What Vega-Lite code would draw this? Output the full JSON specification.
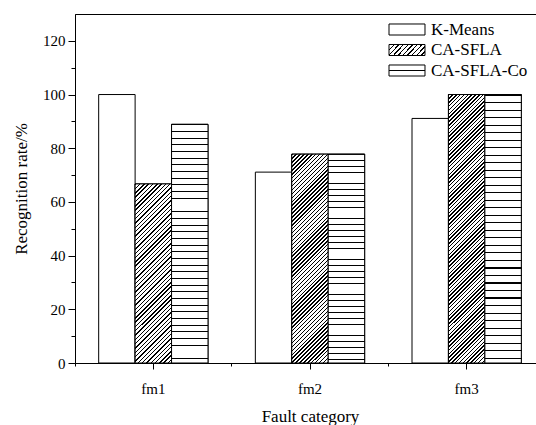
{
  "$schema": "https://vega.github.io/schema/vega-lite/v6.json",
  "width": 462,
  "height": 349,
  "autosize": "none",
  "padding": {"left": 75, "top": 14, "right": 0, "bottom": 62},
  "background": "white",
  "config": {
    "font": "Liberation Serif",
    "view": {"stroke": "black", "strokeWidth": 1},
    "axis": {
      "grid": false,
      "domainColor": "black",
      "tickColor": "black",
      "labelColor": "black",
      "titleColor": "black",
      "labelFont": "Liberation Serif",
      "titleFont": "Liberation Serif",
      "titleFontWeight": "normal",
      "labelFontSize": 15,
      "titleFontSize": 17
    }
  },
  "data": {
    "values": [
      {"category": "fm1", "method": "K-Means", "rate": 100},
      {"category": "fm1", "method": "CA-SFLA", "rate": 66.7},
      {"category": "fm1", "method": "CA-SFLA-Co", "rate": 88.9},
      {"category": "fm2", "method": "K-Means", "rate": 71.1},
      {"category": "fm2", "method": "CA-SFLA", "rate": 77.8},
      {"category": "fm2", "method": "CA-SFLA-Co", "rate": 77.8},
      {"category": "fm3", "method": "K-Means", "rate": 91.1},
      {"category": "fm3", "method": "CA-SFLA", "rate": 100},
      {"category": "fm3", "method": "CA-SFLA-Co", "rate": 100}
    ]
  },
  "layer": [
    {
      "mark": {"type": "bar", "stroke": "black", "strokeWidth": 1},
      "encoding": {
        "x": {
          "field": "category", "type": "nominal", "sort": ["fm1", "fm2", "fm3"],
          "scale": {"range": [0, 470], "paddingInner": 0, "paddingOuter": 0},
          "axis": {"orient": "bottom", "title": "Fault category", "labelAngle": 0, "tickSize": 6, "labelPadding": 12, "titlePadding": 12}
        },
        "xOffset": {
          "field": "method", "type": "nominal", "sort": ["K-Means", "CA-SFLA", "CA-SFLA-Co"],
          "scale": {"paddingInner": 0, "paddingOuter": 0.65}
        },
        "y": {
          "field": "rate", "type": "quantitative",
          "scale": {"domain": [0, 130], "nice": false},
          "axis": {"orient": "left", "title": "Recognition rate/%", "values": [0, 20, 40, 60, 80, 100, 120], "tickSize": 7, "labelPadding": 3, "titlePadding": 12}
        },
        "fill": {
          "field": "method", "type": "nominal", "sort": ["K-Means", "CA-SFLA", "CA-SFLA-Co"],
          "scale": {
            "domain": ["K-Means", "CA-SFLA", "CA-SFLA-Co"],
            "range": [
              "#ffffff",
              {"expr": "{gradient: 'linear', x1: 0, y1: 0, x2: 1.19, y2: 0.34, stops: [{offset: 0, color: '#000'}, {offset: 0.03, color: '#000'}, {offset: 0.03, color: '#fff'}, {offset: 0.1, color: '#fff'}, {offset: 0.1, color: '#000'}, {offset: 0.13, color: '#000'}, {offset: 0.13, color: '#fff'}, {offset: 0.2, color: '#fff'}, {offset: 0.2, color: '#000'}, {offset: 0.23, color: '#000'}, {offset: 0.23, color: '#fff'}, {offset: 0.3, color: '#fff'}, {offset: 0.3, color: '#000'}, {offset: 0.33, color: '#000'}, {offset: 0.33, color: '#fff'}, {offset: 0.4, color: '#fff'}, {offset: 0.4, color: '#000'}, {offset: 0.43, color: '#000'}, {offset: 0.43, color: '#fff'}, {offset: 0.5, color: '#fff'}, {offset: 0.5, color: '#000'}, {offset: 0.53, color: '#000'}, {offset: 0.53, color: '#fff'}, {offset: 0.6, color: '#fff'}, {offset: 0.6, color: '#000'}, {offset: 0.63, color: '#000'}, {offset: 0.63, color: '#fff'}, {offset: 0.7, color: '#fff'}, {offset: 0.7, color: '#000'}, {offset: 0.73, color: '#000'}, {offset: 0.73, color: '#fff'}, {offset: 0.8, color: '#fff'}, {offset: 0.8, color: '#000'}, {offset: 0.83, color: '#000'}, {offset: 0.83, color: '#fff'}, {offset: 0.9, color: '#fff'}, {offset: 0.9, color: '#000'}, {offset: 0.93, color: '#000'}, {offset: 0.93, color: '#fff'}, {offset: 1, color: '#fff'}]}"},
              {"expr": "{gradient: 'linear', x1: 0, y1: 0, x2: 0, y2: 1, stops: [{offset: 0, color: '#fff'}, {offset: 0.45, color: '#fff'}, {offset: 0.45, color: '#000'}, {offset: 0.55, color: '#000'}, {offset: 0.55, color: '#fff'}, {offset: 1, color: '#fff'}]}"}
            ]
          },
          "legend": {
            "orient": "none",
            "legendX": 323.5,
            "legendY": 7,
            "title": null,
            "padding": 0,
            "symbolType": "M-2.571,-0.786H2.571V0.786H-2.571Z",
            "symbolSize": 196,
            "symbolStrokeColor": "black",
            "symbolStrokeWidth": 1,
            "symbolOpacity": 1,
            "labelFont": "Liberation Serif",
            "labelFontSize": 17,
            "labelColor": "black",
            "labelOffset": 15.5,
            "rowPadding": 2.5,
            "encoding": {
              "symbols": {
                "update": {
                  "stroke": {"value": "black"},
                  "strokeWidth": {"value": 1},
                  "opacity": {"value": 1}
                }
              }
            }
          }
        }
      }
    },
    {
      "transform": [{"filter": "datum.method === 'CA-SFLA' && datum.category === 'fm1'"}],
      "mark": {"type": "bar", "stroke": "black", "strokeWidth": 1,
        "fill": {"gradient": "linear", "x1": 0, "y1": 0, "x2": 0.2351, "y2": 1.1557, "stops": [
          {"offset":0,"color":"#000"},{"offset":0.0065,"color":"#000"},{"offset":0.0065,"color":"#fff"},{"offset":0.02,"color":"#fff"},
          {"offset":0.02,"color":"#000"},{"offset":0.0265,"color":"#000"},{"offset":0.0265,"color":"#fff"},{"offset":0.04,"color":"#fff"},
          {"offset":0.04,"color":"#000"},{"offset":0.0465,"color":"#000"},{"offset":0.0465,"color":"#fff"},{"offset":0.06,"color":"#fff"},
          {"offset":0.06,"color":"#000"},{"offset":0.0665,"color":"#000"},{"offset":0.0665,"color":"#fff"},{"offset":0.08,"color":"#fff"},
          {"offset":0.08,"color":"#000"},{"offset":0.0865,"color":"#000"},{"offset":0.0865,"color":"#fff"},{"offset":0.1,"color":"#fff"},
          {"offset":0.1,"color":"#000"},{"offset":0.1065,"color":"#000"},{"offset":0.1065,"color":"#fff"},{"offset":0.12,"color":"#fff"},
          {"offset":0.12,"color":"#000"},{"offset":0.1265,"color":"#000"},{"offset":0.1265,"color":"#fff"},{"offset":0.14,"color":"#fff"},
          {"offset":0.14,"color":"#000"},{"offset":0.1465,"color":"#000"},{"offset":0.1465,"color":"#fff"},{"offset":0.16,"color":"#fff"},
          {"offset":0.16,"color":"#000"},{"offset":0.1665,"color":"#000"},{"offset":0.1665,"color":"#fff"},{"offset":0.18,"color":"#fff"},
          {"offset":0.18,"color":"#000"},{"offset":0.1865,"color":"#000"},{"offset":0.1865,"color":"#fff"},{"offset":0.2,"color":"#fff"},
          {"offset":0.2,"color":"#000"},{"offset":0.2065,"color":"#000"},{"offset":0.2065,"color":"#fff"},{"offset":0.22,"color":"#fff"},
          {"offset":0.22,"color":"#000"},{"offset":0.2265,"color":"#000"},{"offset":0.2265,"color":"#fff"},{"offset":0.24,"color":"#fff"},
          {"offset":0.24,"color":"#000"},{"offset":0.2465,"color":"#000"},{"offset":0.2465,"color":"#fff"},{"offset":0.26,"color":"#fff"},
          {"offset":0.26,"color":"#000"},{"offset":0.2665,"color":"#000"},{"offset":0.2665,"color":"#fff"},{"offset":0.28,"color":"#fff"},
          {"offset":0.28,"color":"#000"},{"offset":0.2865,"color":"#000"},{"offset":0.2865,"color":"#fff"},{"offset":0.3,"color":"#fff"},
          {"offset":0.3,"color":"#000"},{"offset":0.3065,"color":"#000"},{"offset":0.3065,"color":"#fff"},{"offset":0.32,"color":"#fff"},
          {"offset":0.32,"color":"#000"},{"offset":0.3265,"color":"#000"},{"offset":0.3265,"color":"#fff"},{"offset":0.34,"color":"#fff"},
          {"offset":0.34,"color":"#000"},{"offset":0.3465,"color":"#000"},{"offset":0.3465,"color":"#fff"},{"offset":0.36,"color":"#fff"},
          {"offset":0.36,"color":"#000"},{"offset":0.3665,"color":"#000"},{"offset":0.3665,"color":"#fff"},{"offset":0.38,"color":"#fff"},
          {"offset":0.38,"color":"#000"},{"offset":0.3865,"color":"#000"},{"offset":0.3865,"color":"#fff"},{"offset":0.4,"color":"#fff"},
          {"offset":0.4,"color":"#000"},{"offset":0.4065,"color":"#000"},{"offset":0.4065,"color":"#fff"},{"offset":0.42,"color":"#fff"},
          {"offset":0.42,"color":"#000"},{"offset":0.4265,"color":"#000"},{"offset":0.4265,"color":"#fff"},{"offset":0.44,"color":"#fff"},
          {"offset":0.44,"color":"#000"},{"offset":0.4465,"color":"#000"},{"offset":0.4465,"color":"#fff"},{"offset":0.46,"color":"#fff"},
          {"offset":0.46,"color":"#000"},{"offset":0.4665,"color":"#000"},{"offset":0.4665,"color":"#fff"},{"offset":0.48,"color":"#fff"},
          {"offset":0.48,"color":"#000"},{"offset":0.4865,"color":"#000"},{"offset":0.4865,"color":"#fff"},{"offset":0.5,"color":"#fff"},
          {"offset":0.5,"color":"#000"},{"offset":0.5065,"color":"#000"},{"offset":0.5065,"color":"#fff"},{"offset":0.52,"color":"#fff"},
          {"offset":0.52,"color":"#000"},{"offset":0.5265,"color":"#000"},{"offset":0.5265,"color":"#fff"},{"offset":0.54,"color":"#fff"},
          {"offset":0.54,"color":"#000"},{"offset":0.5465,"color":"#000"},{"offset":0.5465,"color":"#fff"},{"offset":0.56,"color":"#fff"},
          {"offset":0.56,"color":"#000"},{"offset":0.5665,"color":"#000"},{"offset":0.5665,"color":"#fff"},{"offset":0.58,"color":"#fff"},
          {"offset":0.58,"color":"#000"},{"offset":0.5865,"color":"#000"},{"offset":0.5865,"color":"#fff"},{"offset":0.6,"color":"#fff"},
          {"offset":0.6,"color":"#000"},{"offset":0.6065,"color":"#000"},{"offset":0.6065,"color":"#fff"},{"offset":0.62,"color":"#fff"},
          {"offset":0.62,"color":"#000"},{"offset":0.6265,"color":"#000"},{"offset":0.6265,"color":"#fff"},{"offset":0.64,"color":"#fff"},
          {"offset":0.64,"color":"#000"},{"offset":0.6465,"color":"#000"},{"offset":0.6465,"color":"#fff"},{"offset":0.66,"color":"#fff"},
          {"offset":0.66,"color":"#000"},{"offset":0.6665,"color":"#000"},{"offset":0.6665,"color":"#fff"},{"offset":0.68,"color":"#fff"},
          {"offset":0.68,"color":"#000"},{"offset":0.6865,"color":"#000"},{"offset":0.6865,"color":"#fff"},{"offset":0.7,"color":"#fff"},
          {"offset":0.7,"color":"#000"},{"offset":0.7065,"color":"#000"},{"offset":0.7065,"color":"#fff"},{"offset":0.72,"color":"#fff"},
          {"offset":0.72,"color":"#000"},{"offset":0.7265,"color":"#000"},{"offset":0.7265,"color":"#fff"},{"offset":0.74,"color":"#fff"},
          {"offset":0.74,"color":"#000"},{"offset":0.7465,"color":"#000"},{"offset":0.7465,"color":"#fff"},{"offset":0.76,"color":"#fff"},
          {"offset":0.76,"color":"#000"},{"offset":0.7665,"color":"#000"},{"offset":0.7665,"color":"#fff"},{"offset":0.78,"color":"#fff"},
          {"offset":0.78,"color":"#000"},{"offset":0.7865,"color":"#000"},{"offset":0.7865,"color":"#fff"},{"offset":0.8,"color":"#fff"},
          {"offset":0.8,"color":"#000"},{"offset":0.8065,"color":"#000"},{"offset":0.8065,"color":"#fff"},{"offset":0.82,"color":"#fff"},
          {"offset":0.82,"color":"#000"},{"offset":0.8265,"color":"#000"},{"offset":0.8265,"color":"#fff"},{"offset":0.84,"color":"#fff"},
          {"offset":0.84,"color":"#000"},{"offset":0.8465,"color":"#000"},{"offset":0.8465,"color":"#fff"},{"offset":0.86,"color":"#fff"},
          {"offset":0.86,"color":"#000"},{"offset":0.8665,"color":"#000"},{"offset":0.8665,"color":"#fff"},{"offset":0.88,"color":"#fff"},
          {"offset":0.88,"color":"#000"},{"offset":0.8865,"color":"#000"},{"offset":0.8865,"color":"#fff"},{"offset":0.9,"color":"#fff"},
          {"offset":0.9,"color":"#000"},{"offset":0.9065,"color":"#000"},{"offset":0.9065,"color":"#fff"},{"offset":0.92,"color":"#fff"},
          {"offset":0.92,"color":"#000"},{"offset":0.9265,"color":"#000"},{"offset":0.9265,"color":"#fff"},{"offset":0.94,"color":"#fff"},
          {"offset":0.94,"color":"#000"},{"offset":0.9465,"color":"#000"},{"offset":0.9465,"color":"#fff"},{"offset":0.96,"color":"#fff"},
          {"offset":0.96,"color":"#000"},{"offset":0.9665,"color":"#000"},{"offset":0.9665,"color":"#fff"},{"offset":0.98,"color":"#fff"},
          {"offset":0.98,"color":"#000"},{"offset":0.9865,"color":"#000"},{"offset":0.9865,"color":"#fff"},{"offset":1,"color":"#fff"}
        ]}
      },
      "encoding": {
        "x": {"field": "category", "type": "nominal", "sort": ["fm1", "fm2", "fm3"], "scale": {"range": [0, 470], "paddingInner": 0, "paddingOuter": 0}, "axis": null},
        "xOffset": {"field": "method", "type": "nominal", "sort": ["K-Means", "CA-SFLA", "CA-SFLA-Co"], "scale": {"paddingInner": 0, "paddingOuter": 0.65}},
        "y": {"field": "rate", "type": "quantitative", "scale": {"domain": [0, 130], "nice": false}, "axis": null}
      }
    },
    {
      "transform": [{"filter": "datum.method === 'CA-SFLA' && datum.category === 'fm2'"}],
      "mark": {"type": "bar", "stroke": "black", "strokeWidth": 1,
        "fill": {"gradient": "linear", "x1": 0, "y1": 0, "x2": 0.1987, "y2": 1.1396, "stops": [
                {"offset":0,"color":"#000"},{"offset":0.006,"color":"#000"},{"offset":0.006,"color":"#fff"},{"offset":0.016,"color":"#fff"},
                {"offset":0.016,"color":"#000"},{"offset":0.022,"color":"#000"},{"offset":0.022,"color":"#fff"},{"offset":0.032,"color":"#fff"},
                {"offset":0.032,"color":"#000"},{"offset":0.038,"color":"#000"},{"offset":0.038,"color":"#fff"},{"offset":0.048,"color":"#fff"},
                {"offset":0.048,"color":"#000"},{"offset":0.054,"color":"#000"},{"offset":0.054,"color":"#fff"},{"offset":0.064,"color":"#fff"},
                {"offset":0.064,"color":"#000"},{"offset":0.07,"color":"#000"},{"offset":0.07,"color":"#fff"},{"offset":0.08,"color":"#fff"},
                {"offset":0.08,"color":"#000"},{"offset":0.086,"color":"#000"},{"offset":0.086,"color":"#fff"},{"offset":0.096,"color":"#fff"},
                {"offset":0.096,"color":"#000"},{"offset":0.102,"color":"#000"},{"offset":0.102,"color":"#fff"},{"offset":0.112,"color":"#fff"},
                {"offset":0.112,"color":"#000"},{"offset":0.118,"color":"#000"},{"offset":0.118,"color":"#fff"},{"offset":0.128,"color":"#fff"},
                {"offset":0.128,"color":"#000"},{"offset":0.134,"color":"#000"},{"offset":0.134,"color":"#fff"},{"offset":0.144,"color":"#fff"},
                {"offset":0.144,"color":"#000"},{"offset":0.15,"color":"#000"},{"offset":0.15,"color":"#fff"},{"offset":0.16,"color":"#fff"},
                {"offset":0.16,"color":"#000"},{"offset":0.166,"color":"#000"},{"offset":0.166,"color":"#fff"},{"offset":0.176,"color":"#fff"},
                {"offset":0.176,"color":"#000"},{"offset":0.182,"color":"#000"},{"offset":0.182,"color":"#fff"},{"offset":0.192,"color":"#fff"},
                {"offset":0.192,"color":"#000"},{"offset":0.198,"color":"#000"},{"offset":0.198,"color":"#fff"},{"offset":0.208,"color":"#fff"},
                {"offset":0.208,"color":"#000"},{"offset":0.214,"color":"#000"},{"offset":0.214,"color":"#fff"},{"offset":0.224,"color":"#fff"},
                {"offset":0.224,"color":"#000"},{"offset":0.23,"color":"#000"},{"offset":0.23,"color":"#fff"},{"offset":0.24,"color":"#fff"},
                {"offset":0.24,"color":"#000"},{"offset":0.246,"color":"#000"},{"offset":0.246,"color":"#fff"},{"offset":0.256,"color":"#fff"},
                {"offset":0.256,"color":"#000"},{"offset":0.262,"color":"#000"},{"offset":0.262,"color":"#fff"},{"offset":0.272,"color":"#fff"},
                {"offset":0.272,"color":"#000"},{"offset":0.278,"color":"#000"},{"offset":0.278,"color":"#fff"},{"offset":0.288,"color":"#fff"},
                {"offset":0.288,"color":"#000"},{"offset":0.294,"color":"#000"},{"offset":0.294,"color":"#fff"},{"offset":0.304,"color":"#fff"},
                {"offset":0.304,"color":"#000"},{"offset":0.31,"color":"#000"},{"offset":0.31,"color":"#fff"},{"offset":0.32,"color":"#fff"},
                {"offset":0.32,"color":"#000"},{"offset":0.326,"color":"#000"},{"offset":0.326,"color":"#fff"},{"offset":0.336,"color":"#fff"},
                {"offset":0.336,"color":"#000"},{"offset":0.342,"color":"#000"},{"offset":0.342,"color":"#fff"},{"offset":0.352,"color":"#fff"},
                {"offset":0.352,"color":"#000"},{"offset":0.358,"color":"#000"},{"offset":0.358,"color":"#fff"},{"offset":0.368,"color":"#fff"},
                {"offset":0.368,"color":"#000"},{"offset":0.374,"color":"#000"},{"offset":0.374,"color":"#fff"},{"offset":0.384,"color":"#fff"},
                {"offset":0.384,"color":"#000"},{"offset":0.39,"color":"#000"},{"offset":0.39,"color":"#fff"},{"offset":0.4,"color":"#fff"},
                {"offset":0.4,"color":"#000"},{"offset":0.406,"color":"#000"},{"offset":0.406,"color":"#fff"},{"offset":0.416,"color":"#fff"},
                {"offset":0.416,"color":"#000"},{"offset":0.422,"color":"#000"},{"offset":0.422,"color":"#fff"},{"offset":0.432,"color":"#fff"},
                {"offset":0.432,"color":"#000"},{"offset":0.438,"color":"#000"},{"offset":0.438,"color":"#fff"},{"offset":0.448,"color":"#fff"},
                {"offset":0.448,"color":"#000"},{"offset":0.454,"color":"#000"},{"offset":0.454,"color":"#fff"},{"offset":0.464,"color":"#fff"},
                {"offset":0.464,"color":"#000"},{"offset":0.47,"color":"#000"},{"offset":0.47,"color":"#fff"},{"offset":0.48,"color":"#fff"},
                {"offset":0.48,"color":"#000"},{"offset":0.486,"color":"#000"},{"offset":0.486,"color":"#fff"},{"offset":0.496,"color":"#fff"},
                {"offset":0.496,"color":"#000"},{"offset":0.502,"color":"#000"},{"offset":0.502,"color":"#fff"},{"offset":0.512,"color":"#fff"},
                {"offset":0.512,"color":"#000"},{"offset":0.518,"color":"#000"},{"offset":0.518,"color":"#fff"},{"offset":0.528,"color":"#fff"},
                {"offset":0.528,"color":"#000"},{"offset":0.534,"color":"#000"},{"offset":0.534,"color":"#fff"},{"offset":0.544,"color":"#fff"},
                {"offset":0.544,"color":"#000"},{"offset":0.55,"color":"#000"},{"offset":0.55,"color":"#fff"},{"offset":0.56,"color":"#fff"},
                {"offset":0.56,"color":"#000"},{"offset":0.566,"color":"#000"},{"offset":0.566,"color":"#fff"},{"offset":0.576,"color":"#fff"},
                {"offset":0.576,"color":"#000"},{"offset":0.582,"color":"#000"},{"offset":0.582,"color":"#fff"},{"offset":0.592,"color":"#fff"},
                {"offset":0.592,"color":"#000"},{"offset":0.598,"color":"#000"},{"offset":0.598,"color":"#fff"},{"offset":0.608,"color":"#fff"},
                {"offset":0.608,"color":"#000"},{"offset":0.614,"color":"#000"},{"offset":0.614,"color":"#fff"},{"offset":0.624,"color":"#fff"},
                {"offset":0.624,"color":"#000"},{"offset":0.63,"color":"#000"},{"offset":0.63,"color":"#fff"},{"offset":0.64,"color":"#fff"},
                {"offset":0.64,"color":"#000"},{"offset":0.646,"color":"#000"},{"offset":0.646,"color":"#fff"},{"offset":0.656,"color":"#fff"},
                {"offset":0.656,"color":"#000"},{"offset":0.662,"color":"#000"},{"offset":0.662,"color":"#fff"},{"offset":0.672,"color":"#fff"},
                {"offset":0.672,"color":"#000"},{"offset":0.678,"color":"#000"},{"offset":0.678,"color":"#fff"},{"offset":0.688,"color":"#fff"},
                {"offset":0.688,"color":"#000"},{"offset":0.694,"color":"#000"},{"offset":0.694,"color":"#fff"},{"offset":0.704,"color":"#fff"},
                {"offset":0.704,"color":"#000"},{"offset":0.71,"color":"#000"},{"offset":0.71,"color":"#fff"},{"offset":0.72,"color":"#fff"},
                {"offset":0.72,"color":"#000"},{"offset":0.726,"color":"#000"},{"offset":0.726,"color":"#fff"},{"offset":0.736,"color":"#fff"},
                {"offset":0.736,"color":"#000"},{"offset":0.742,"color":"#000"},{"offset":0.742,"color":"#fff"},{"offset":0.752,"color":"#fff"},
                {"offset":0.752,"color":"#000"},{"offset":0.758,"color":"#000"},{"offset":0.758,"color":"#fff"},{"offset":0.768,"color":"#fff"},
                {"offset":0.768,"color":"#000"},{"offset":0.774,"color":"#000"},{"offset":0.774,"color":"#fff"},{"offset":0.784,"color":"#fff"},
                {"offset":0.784,"color":"#000"},{"offset":0.79,"color":"#000"},{"offset":0.79,"color":"#fff"},{"offset":0.8,"color":"#fff"},
                {"offset":0.8,"color":"#000"},{"offset":0.806,"color":"#000"},{"offset":0.806,"color":"#fff"},{"offset":0.816,"color":"#fff"},
                {"offset":0.816,"color":"#000"},{"offset":0.822,"color":"#000"},{"offset":0.822,"color":"#fff"},{"offset":0.832,"color":"#fff"},
                {"offset":0.832,"color":"#000"},{"offset":0.838,"color":"#000"},{"offset":0.838,"color":"#fff"},{"offset":0.848,"color":"#fff"},
                {"offset":0.848,"color":"#000"},{"offset":0.854,"color":"#000"},{"offset":0.854,"color":"#fff"},{"offset":0.864,"color":"#fff"},
                {"offset":0.864,"color":"#000"},{"offset":0.87,"color":"#000"},{"offset":0.87,"color":"#fff"},{"offset":0.88,"color":"#fff"},
                {"offset":0.88,"color":"#000"},{"offset":0.886,"color":"#000"},{"offset":0.886,"color":"#fff"},{"offset":0.896,"color":"#fff"},
                {"offset":0.896,"color":"#000"},{"offset":0.902,"color":"#000"},{"offset":0.902,"color":"#fff"},{"offset":0.912,"color":"#fff"},
                {"offset":0.912,"color":"#000"},{"offset":0.918,"color":"#000"},{"offset":0.918,"color":"#fff"},{"offset":0.928,"color":"#fff"},
                {"offset":0.928,"color":"#000"},{"offset":0.934,"color":"#000"},{"offset":0.934,"color":"#fff"},{"offset":0.944,"color":"#fff"},
                {"offset":0.944,"color":"#000"},{"offset":0.95,"color":"#000"},{"offset":0.95,"color":"#fff"},{"offset":0.96,"color":"#fff"},
                {"offset":0.96,"color":"#000"},{"offset":0.966,"color":"#000"},{"offset":0.966,"color":"#fff"},{"offset":0.976,"color":"#fff"},
                {"offset":0.976,"color":"#000"},{"offset":0.982,"color":"#000"},{"offset":0.982,"color":"#fff"},{"offset":0.992,"color":"#fff"},
                {"offset":0.992,"color":"#000"},{"offset":0.998,"color":"#000"},{"offset":0.998,"color":"#fff"},{"offset":1,"color":"#fff"}
        ]}
      },
      "encoding": {
        "x": {"field": "category", "type": "nominal", "sort": ["fm1", "fm2", "fm3"], "scale": {"range": [0, 470], "paddingInner": 0, "paddingOuter": 0}, "axis": null},
        "xOffset": {"field": "method", "type": "nominal", "sort": ["K-Means", "CA-SFLA", "CA-SFLA-Co"], "scale": {"paddingInner": 0, "paddingOuter": 0.65}},
        "y": {"field": "rate", "type": "quantitative", "scale": {"domain": [0, 130], "nice": false}, "axis": null}
      }
    },
    {
      "transform": [{"filter": "datum.method === 'CA-SFLA' && datum.category === 'fm3'"}],
      "mark": {"type": "bar", "stroke": "black", "strokeWidth": 1,
        "fill": {"gradient": "linear", "x1": 0, "y1": 0, "x2": 0.1513, "y2": 1.1152, "stops": [
          {"offset":0,"color":"#000"},{"offset":0.005,"color":"#000"},{"offset":0.005,"color":"#fff"},{"offset":0.0125,"color":"#fff"},
          {"offset":0.0125,"color":"#000"},{"offset":0.0175,"color":"#000"},{"offset":0.0175,"color":"#fff"},{"offset":0.025,"color":"#fff"},
          {"offset":0.025,"color":"#000"},{"offset":0.03,"color":"#000"},{"offset":0.03,"color":"#fff"},{"offset":0.0375,"color":"#fff"},
          {"offset":0.0375,"color":"#000"},{"offset":0.0425,"color":"#000"},{"offset":0.0425,"color":"#fff"},{"offset":0.05,"color":"#fff"},
          {"offset":0.05,"color":"#000"},{"offset":0.055,"color":"#000"},{"offset":0.055,"color":"#fff"},{"offset":0.0625,"color":"#fff"},
          {"offset":0.0625,"color":"#000"},{"offset":0.0675,"color":"#000"},{"offset":0.0675,"color":"#fff"},{"offset":0.075,"color":"#fff"},
          {"offset":0.075,"color":"#000"},{"offset":0.08,"color":"#000"},{"offset":0.08,"color":"#fff"},{"offset":0.0875,"color":"#fff"},
          {"offset":0.0875,"color":"#000"},{"offset":0.0925,"color":"#000"},{"offset":0.0925,"color":"#fff"},{"offset":0.1,"color":"#fff"},
          {"offset":0.1,"color":"#000"},{"offset":0.105,"color":"#000"},{"offset":0.105,"color":"#fff"},{"offset":0.1125,"color":"#fff"},
          {"offset":0.1125,"color":"#000"},{"offset":0.1175,"color":"#000"},{"offset":0.1175,"color":"#fff"},{"offset":0.125,"color":"#fff"},
          {"offset":0.125,"color":"#000"},{"offset":0.13,"color":"#000"},{"offset":0.13,"color":"#fff"},{"offset":0.1375,"color":"#fff"},
          {"offset":0.1375,"color":"#000"},{"offset":0.1425,"color":"#000"},{"offset":0.1425,"color":"#fff"},{"offset":0.15,"color":"#fff"},
          {"offset":0.15,"color":"#000"},{"offset":0.155,"color":"#000"},{"offset":0.155,"color":"#fff"},{"offset":0.1625,"color":"#fff"},
          {"offset":0.1625,"color":"#000"},{"offset":0.1675,"color":"#000"},{"offset":0.1675,"color":"#fff"},{"offset":0.175,"color":"#fff"},
          {"offset":0.175,"color":"#000"},{"offset":0.18,"color":"#000"},{"offset":0.18,"color":"#fff"},{"offset":0.1875,"color":"#fff"},
          {"offset":0.1875,"color":"#000"},{"offset":0.1925,"color":"#000"},{"offset":0.1925,"color":"#fff"},{"offset":0.2,"color":"#fff"},
          {"offset":0.2,"color":"#000"},{"offset":0.205,"color":"#000"},{"offset":0.205,"color":"#fff"},{"offset":0.2125,"color":"#fff"},
          {"offset":0.2125,"color":"#000"},{"offset":0.2175,"color":"#000"},{"offset":0.2175,"color":"#fff"},{"offset":0.225,"color":"#fff"},
          {"offset":0.225,"color":"#000"},{"offset":0.23,"color":"#000"},{"offset":0.23,"color":"#fff"},{"offset":0.2375,"color":"#fff"},
          {"offset":0.2375,"color":"#000"},{"offset":0.2425,"color":"#000"},{"offset":0.2425,"color":"#fff"},{"offset":0.25,"color":"#fff"},
          {"offset":0.25,"color":"#000"},{"offset":0.255,"color":"#000"},{"offset":0.255,"color":"#fff"},{"offset":0.2625,"color":"#fff"},
          {"offset":0.2625,"color":"#000"},{"offset":0.2675,"color":"#000"},{"offset":0.2675,"color":"#fff"},{"offset":0.275,"color":"#fff"},
          {"offset":0.275,"color":"#000"},{"offset":0.28,"color":"#000"},{"offset":0.28,"color":"#fff"},{"offset":0.2875,"color":"#fff"},
          {"offset":0.2875,"color":"#000"},{"offset":0.2925,"color":"#000"},{"offset":0.2925,"color":"#fff"},{"offset":0.3,"color":"#fff"},
          {"offset":0.3,"color":"#000"},{"offset":0.305,"color":"#000"},{"offset":0.305,"color":"#fff"},{"offset":0.3125,"color":"#fff"},
          {"offset":0.3125,"color":"#000"},{"offset":0.3175,"color":"#000"},{"offset":0.3175,"color":"#fff"},{"offset":0.325,"color":"#fff"},
          {"offset":0.325,"color":"#000"},{"offset":0.33,"color":"#000"},{"offset":0.33,"color":"#fff"},{"offset":0.3375,"color":"#fff"},
          {"offset":0.3375,"color":"#000"},{"offset":0.3425,"color":"#000"},{"offset":0.3425,"color":"#fff"},{"offset":0.35,"color":"#fff"},
          {"offset":0.35,"color":"#000"},{"offset":0.355,"color":"#000"},{"offset":0.355,"color":"#fff"},{"offset":0.3625,"color":"#fff"},
          {"offset":0.3625,"color":"#000"},{"offset":0.3675,"color":"#000"},{"offset":0.3675,"color":"#fff"},{"offset":0.375,"color":"#fff"},
          {"offset":0.375,"color":"#000"},{"offset":0.38,"color":"#000"},{"offset":0.38,"color":"#fff"},{"offset":0.3875,"color":"#fff"},
          {"offset":0.3875,"color":"#000"},{"offset":0.3925,"color":"#000"},{"offset":0.3925,"color":"#fff"},{"offset":0.4,"color":"#fff"},
          {"offset":0.4,"color":"#000"},{"offset":0.405,"color":"#000"},{"offset":0.405,"color":"#fff"},{"offset":0.4125,"color":"#fff"},
          {"offset":0.4125,"color":"#000"},{"offset":0.4175,"color":"#000"},{"offset":0.4175,"color":"#fff"},{"offset":0.425,"color":"#fff"},
          {"offset":0.425,"color":"#000"},{"offset":0.43,"color":"#000"},{"offset":0.43,"color":"#fff"},{"offset":0.4375,"color":"#fff"},
          {"offset":0.4375,"color":"#000"},{"offset":0.4425,"color":"#000"},{"offset":0.4425,"color":"#fff"},{"offset":0.45,"color":"#fff"},
          {"offset":0.45,"color":"#000"},{"offset":0.455,"color":"#000"},{"offset":0.455,"color":"#fff"},{"offset":0.4625,"color":"#fff"},
          {"offset":0.4625,"color":"#000"},{"offset":0.4675,"color":"#000"},{"offset":0.4675,"color":"#fff"},{"offset":0.475,"color":"#fff"},
          {"offset":0.475,"color":"#000"},{"offset":0.48,"color":"#000"},{"offset":0.48,"color":"#fff"},{"offset":0.4875,"color":"#fff"},
          {"offset":0.4875,"color":"#000"},{"offset":0.4925,"color":"#000"},{"offset":0.4925,"color":"#fff"},{"offset":0.5,"color":"#fff"},
          {"offset":0.5,"color":"#000"},{"offset":0.505,"color":"#000"},{"offset":0.505,"color":"#fff"},{"offset":0.5125,"color":"#fff"},
          {"offset":0.5125,"color":"#000"},{"offset":0.5175,"color":"#000"},{"offset":0.5175,"color":"#fff"},{"offset":0.525,"color":"#fff"},
          {"offset":0.525,"color":"#000"},{"offset":0.53,"color":"#000"},{"offset":0.53,"color":"#fff"},{"offset":0.5375,"color":"#fff"},
          {"offset":0.5375,"color":"#000"},{"offset":0.5425,"color":"#000"},{"offset":0.5425,"color":"#fff"},{"offset":0.55,"color":"#fff"},
          {"offset":0.55,"color":"#000"},{"offset":0.555,"color":"#000"},{"offset":0.555,"color":"#fff"},{"offset":0.5625,"color":"#fff"},
          {"offset":0.5625,"color":"#000"},{"offset":0.5675,"color":"#000"},{"offset":0.5675,"color":"#fff"},{"offset":0.575,"color":"#fff"},
          {"offset":0.575,"color":"#000"},{"offset":0.58,"color":"#000"},{"offset":0.58,"color":"#fff"},{"offset":0.5875,"color":"#fff"},
          {"offset":0.5875,"color":"#000"},{"offset":0.5925,"color":"#000"},{"offset":0.5925,"color":"#fff"},{"offset":0.6,"color":"#fff"},
          {"offset":0.6,"color":"#000"},{"offset":0.605,"color":"#000"},{"offset":0.605,"color":"#fff"},{"offset":0.6125,"color":"#fff"},
          {"offset":0.6125,"color":"#000"},{"offset":0.6175,"color":"#000"},{"offset":0.6175,"color":"#fff"},{"offset":0.625,"color":"#fff"},
          {"offset":0.625,"color":"#000"},{"offset":0.63,"color":"#000"},{"offset":0.63,"color":"#fff"},{"offset":0.6375,"color":"#fff"},
          {"offset":0.6375,"color":"#000"},{"offset":0.6425,"color":"#000"},{"offset":0.6425,"color":"#fff"},{"offset":0.65,"color":"#fff"},
          {"offset":0.65,"color":"#000"},{"offset":0.655,"color":"#000"},{"offset":0.655,"color":"#fff"},{"offset":0.6625,"color":"#fff"},
          {"offset":0.6625,"color":"#000"},{"offset":0.6675,"color":"#000"},{"offset":0.6675,"color":"#fff"},{"offset":0.675,"color":"#fff"},
          {"offset":0.675,"color":"#000"},{"offset":0.68,"color":"#000"},{"offset":0.68,"color":"#fff"},{"offset":0.6875,"color":"#fff"},
          {"offset":0.6875,"color":"#000"},{"offset":0.6925,"color":"#000"},{"offset":0.6925,"color":"#fff"},{"offset":0.7,"color":"#fff"},
          {"offset":0.7,"color":"#000"},{"offset":0.705,"color":"#000"},{"offset":0.705,"color":"#fff"},{"offset":0.7125,"color":"#fff"},
          {"offset":0.7125,"color":"#000"},{"offset":0.7175,"color":"#000"},{"offset":0.7175,"color":"#fff"},{"offset":0.725,"color":"#fff"},
          {"offset":0.725,"color":"#000"},{"offset":0.73,"color":"#000"},{"offset":0.73,"color":"#fff"},{"offset":0.7375,"color":"#fff"},
          {"offset":0.7375,"color":"#000"},{"offset":0.7425,"color":"#000"},{"offset":0.7425,"color":"#fff"},{"offset":0.75,"color":"#fff"},
          {"offset":0.75,"color":"#000"},{"offset":0.755,"color":"#000"},{"offset":0.755,"color":"#fff"},{"offset":0.7625,"color":"#fff"},
          {"offset":0.7625,"color":"#000"},{"offset":0.7675,"color":"#000"},{"offset":0.7675,"color":"#fff"},{"offset":0.775,"color":"#fff"},
          {"offset":0.775,"color":"#000"},{"offset":0.78,"color":"#000"},{"offset":0.78,"color":"#fff"},{"offset":0.7875,"color":"#fff"},
          {"offset":0.7875,"color":"#000"},{"offset":0.7925,"color":"#000"},{"offset":0.7925,"color":"#fff"},{"offset":0.8,"color":"#fff"},
          {"offset":0.8,"color":"#000"},{"offset":0.805,"color":"#000"},{"offset":0.805,"color":"#fff"},{"offset":0.8125,"color":"#fff"},
          {"offset":0.8125,"color":"#000"},{"offset":0.8175,"color":"#000"},{"offset":0.8175,"color":"#fff"},{"offset":0.825,"color":"#fff"},
          {"offset":0.825,"color":"#000"},{"offset":0.83,"color":"#000"},{"offset":0.83,"color":"#fff"},{"offset":0.8375,"color":"#fff"},
          {"offset":0.8375,"color":"#000"},{"offset":0.8425,"color":"#000"},{"offset":0.8425,"color":"#fff"},{"offset":0.85,"color":"#fff"},
          {"offset":0.85,"color":"#000"},{"offset":0.855,"color":"#000"},{"offset":0.855,"color":"#fff"},{"offset":0.8625,"color":"#fff"},
          {"offset":0.8625,"color":"#000"},{"offset":0.8675,"color":"#000"},{"offset":0.8675,"color":"#fff"},{"offset":0.875,"color":"#fff"},
          {"offset":0.875,"color":"#000"},{"offset":0.88,"color":"#000"},{"offset":0.88,"color":"#fff"},{"offset":0.8875,"color":"#fff"},
          {"offset":0.8875,"color":"#000"},{"offset":0.8925,"color":"#000"},{"offset":0.8925,"color":"#fff"},{"offset":0.9,"color":"#fff"},
          {"offset":0.9,"color":"#000"},{"offset":0.905,"color":"#000"},{"offset":0.905,"color":"#fff"},{"offset":0.9125,"color":"#fff"},
          {"offset":0.9125,"color":"#000"},{"offset":0.9175,"color":"#000"},{"offset":0.9175,"color":"#fff"},{"offset":0.925,"color":"#fff"},
          {"offset":0.925,"color":"#000"},{"offset":0.93,"color":"#000"},{"offset":0.93,"color":"#fff"},{"offset":0.9375,"color":"#fff"},
          {"offset":0.9375,"color":"#000"},{"offset":0.9425,"color":"#000"},{"offset":0.9425,"color":"#fff"},{"offset":0.95,"color":"#fff"},
          {"offset":0.95,"color":"#000"},{"offset":0.955,"color":"#000"},{"offset":0.955,"color":"#fff"},{"offset":0.9625,"color":"#fff"},
          {"offset":0.9625,"color":"#000"},{"offset":0.9675,"color":"#000"},{"offset":0.9675,"color":"#fff"},{"offset":0.975,"color":"#fff"},
          {"offset":0.975,"color":"#000"},{"offset":0.98,"color":"#000"},{"offset":0.98,"color":"#fff"},{"offset":0.9875,"color":"#fff"},
          {"offset":0.9875,"color":"#000"},{"offset":0.9925,"color":"#000"},{"offset":0.9925,"color":"#fff"},{"offset":1,"color":"#fff"}
        ]}
      },
      "encoding": {
        "x": {"field": "category", "type": "nominal", "sort": ["fm1", "fm2", "fm3"], "scale": {"range": [0, 470], "paddingInner": 0, "paddingOuter": 0}, "axis": null},
        "xOffset": {"field": "method", "type": "nominal", "sort": ["K-Means", "CA-SFLA", "CA-SFLA-Co"], "scale": {"paddingInner": 0, "paddingOuter": 0.65}},
        "y": {"field": "rate", "type": "quantitative", "scale": {"domain": [0, 130], "nice": false}, "axis": null}
      }
    },
    {
      "transform": [{"filter": "datum.method === 'CA-SFLA-Co'"}],
      "mark": {"type": "bar", "stroke": "black", "strokeWidth": 1,
        "fill": {"gradient": "linear", "x1": 0, "y1": 0, "x2": 0, "y2": 1, "stops": [
                {"offset":0,"color":"#000"},{"offset":0.004,"color":"#000"},{"offset":0.004,"color":"#fff"},{"offset":0.028,"color":"#fff"},
                {"offset":0.028,"color":"#000"},{"offset":0.032,"color":"#000"},{"offset":0.032,"color":"#fff"},{"offset":0.056,"color":"#fff"},
                {"offset":0.056,"color":"#000"},{"offset":0.06,"color":"#000"},{"offset":0.06,"color":"#fff"},{"offset":0.084,"color":"#fff"},
                {"offset":0.084,"color":"#000"},{"offset":0.088,"color":"#000"},{"offset":0.088,"color":"#fff"},{"offset":0.112,"color":"#fff"},
                {"offset":0.112,"color":"#000"},{"offset":0.116,"color":"#000"},{"offset":0.116,"color":"#fff"},{"offset":0.14,"color":"#fff"},
                {"offset":0.14,"color":"#000"},{"offset":0.144,"color":"#000"},{"offset":0.144,"color":"#fff"},{"offset":0.168,"color":"#fff"},
                {"offset":0.168,"color":"#000"},{"offset":0.172,"color":"#000"},{"offset":0.172,"color":"#fff"},{"offset":0.196,"color":"#fff"},
                {"offset":0.196,"color":"#000"},{"offset":0.2,"color":"#000"},{"offset":0.2,"color":"#fff"},{"offset":0.224,"color":"#fff"},
                {"offset":0.224,"color":"#000"},{"offset":0.228,"color":"#000"},{"offset":0.228,"color":"#fff"},{"offset":0.252,"color":"#fff"},
                {"offset":0.252,"color":"#000"},{"offset":0.256,"color":"#000"},{"offset":0.256,"color":"#fff"},{"offset":0.28,"color":"#fff"},
                {"offset":0.28,"color":"#000"},{"offset":0.284,"color":"#000"},{"offset":0.284,"color":"#fff"},{"offset":0.308,"color":"#fff"},
                {"offset":0.308,"color":"#000"},{"offset":0.312,"color":"#000"},{"offset":0.312,"color":"#fff"},{"offset":0.336,"color":"#fff"},
                {"offset":0.336,"color":"#000"},{"offset":0.34,"color":"#000"},{"offset":0.34,"color":"#fff"},{"offset":0.364,"color":"#fff"},
                {"offset":0.364,"color":"#000"},{"offset":0.368,"color":"#000"},{"offset":0.368,"color":"#fff"},{"offset":0.392,"color":"#fff"},
                {"offset":0.392,"color":"#000"},{"offset":0.396,"color":"#000"},{"offset":0.396,"color":"#fff"},{"offset":0.42,"color":"#fff"},
                {"offset":0.42,"color":"#000"},{"offset":0.424,"color":"#000"},{"offset":0.424,"color":"#fff"},{"offset":0.448,"color":"#fff"},
                {"offset":0.448,"color":"#000"},{"offset":0.452,"color":"#000"},{"offset":0.452,"color":"#fff"},{"offset":0.476,"color":"#fff"},
                {"offset":0.476,"color":"#000"},{"offset":0.48,"color":"#000"},{"offset":0.48,"color":"#fff"},{"offset":0.504,"color":"#fff"},
                {"offset":0.504,"color":"#000"},{"offset":0.508,"color":"#000"},{"offset":0.508,"color":"#fff"},{"offset":0.532,"color":"#fff"},
                {"offset":0.532,"color":"#000"},{"offset":0.536,"color":"#000"},{"offset":0.536,"color":"#fff"},{"offset":0.56,"color":"#fff"},
                {"offset":0.56,"color":"#000"},{"offset":0.564,"color":"#000"},{"offset":0.564,"color":"#fff"},{"offset":0.588,"color":"#fff"},
                {"offset":0.588,"color":"#000"},{"offset":0.592,"color":"#000"},{"offset":0.592,"color":"#fff"},{"offset":0.616,"color":"#fff"},
                {"offset":0.616,"color":"#000"},{"offset":0.62,"color":"#000"},{"offset":0.62,"color":"#fff"},{"offset":0.644,"color":"#fff"},
                {"offset":0.644,"color":"#000"},{"offset":0.648,"color":"#000"},{"offset":0.648,"color":"#fff"},{"offset":0.672,"color":"#fff"},
                {"offset":0.672,"color":"#000"},{"offset":0.676,"color":"#000"},{"offset":0.676,"color":"#fff"},{"offset":0.7,"color":"#fff"},
                {"offset":0.7,"color":"#000"},{"offset":0.704,"color":"#000"},{"offset":0.704,"color":"#fff"},{"offset":0.728,"color":"#fff"},
                {"offset":0.728,"color":"#000"},{"offset":0.732,"color":"#000"},{"offset":0.732,"color":"#fff"},{"offset":0.756,"color":"#fff"},
                {"offset":0.756,"color":"#000"},{"offset":0.76,"color":"#000"},{"offset":0.76,"color":"#fff"},{"offset":0.784,"color":"#fff"},
                {"offset":0.784,"color":"#000"},{"offset":0.788,"color":"#000"},{"offset":0.788,"color":"#fff"},{"offset":0.812,"color":"#fff"},
                {"offset":0.812,"color":"#000"},{"offset":0.816,"color":"#000"},{"offset":0.816,"color":"#fff"},{"offset":0.84,"color":"#fff"},
                {"offset":0.84,"color":"#000"},{"offset":0.844,"color":"#000"},{"offset":0.844,"color":"#fff"},{"offset":0.868,"color":"#fff"},
                {"offset":0.868,"color":"#000"},{"offset":0.872,"color":"#000"},{"offset":0.872,"color":"#fff"},{"offset":0.896,"color":"#fff"},
                {"offset":0.896,"color":"#000"},{"offset":0.9,"color":"#000"},{"offset":0.9,"color":"#fff"},{"offset":0.924,"color":"#fff"},
                {"offset":0.924,"color":"#000"},{"offset":0.928,"color":"#000"},{"offset":0.928,"color":"#fff"},{"offset":0.952,"color":"#fff"},
                {"offset":0.952,"color":"#000"},{"offset":0.956,"color":"#000"},{"offset":0.956,"color":"#fff"},{"offset":0.98,"color":"#fff"},
                {"offset":0.98,"color":"#000"},{"offset":0.984,"color":"#000"},{"offset":0.984,"color":"#fff"},{"offset":1,"color":"#fff"}
        ]}
      },
      "encoding": {
        "x": {"field": "category", "type": "nominal", "sort": ["fm1", "fm2", "fm3"], "scale": {"range": [0, 470], "paddingInner": 0, "paddingOuter": 0}, "axis": null},
        "xOffset": {"field": "method", "type": "nominal", "sort": ["K-Means", "CA-SFLA", "CA-SFLA-Co"], "scale": {"paddingInner": 0, "paddingOuter": 0.65}},
        "y": {"field": "rate", "type": "quantitative", "scale": {"domain": [0, 130], "nice": false}, "axis": null}
      }
    },
    {
      "mark": {"type": "bar", "opacity": 0},
      "encoding": {
        "x": {
          "field": "category", "type": "nominal", "sort": ["fm1", "fm2", "fm3"],
          "scale": {"range": [0, 470], "paddingInner": 0, "paddingOuter": 0},
          "axis": {"orient": "bottom", "title": null, "labels": false, "domain": false, "bandPosition": 0, "tickSize": 3}
        },
        "xOffset": {
          "field": "method", "type": "nominal", "sort": ["K-Means", "CA-SFLA", "CA-SFLA-Co"],
          "scale": {"paddingInner": 0, "paddingOuter": 0.65}
        },
        "y": {
          "field": "rate", "type": "quantitative",
          "scale": {"domain": [0, 130], "nice": false},
          "axis": {"orient": "left", "title": null, "labels": false, "domain": false, "values": [10, 30, 50, 70, 90, 110], "tickSize": 4}
        }
      }
    }
  ],
  "resolve": {"axis": {"x": "independent", "y": "independent"}}
}
